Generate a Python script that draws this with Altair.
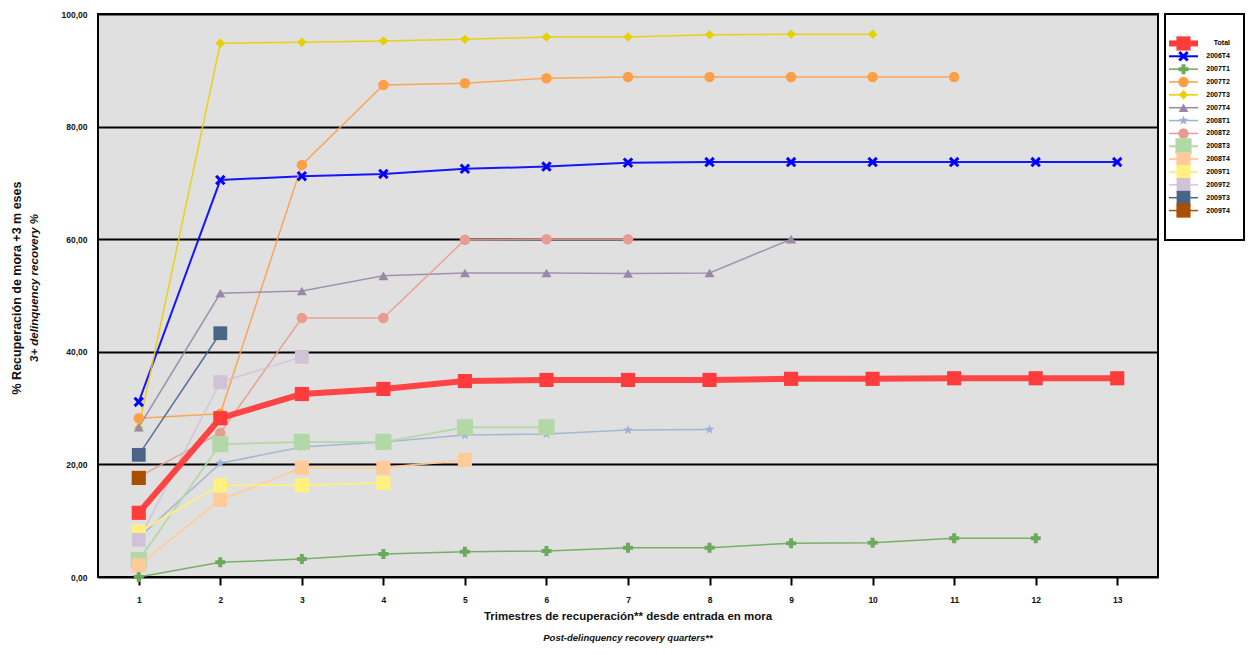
import altair as alt
import pandas as pd

# ---- data ----
series_names = ["Total", "2006T4", "2007T1", "2007T2", "2007T3", "2007T4", "2008T1",
                "2008T2", "2008T3", "2008T4", "2009T1", "2009T2", "2009T3", "2009T4"]

total   = [11.4, 28.2, 32.5, 33.4, 34.8, 35.0, 35.0, 35.0, 35.2, 35.2, 35.3, 35.3, 35.3]
s2006T4 = [31.1, 70.5, 71.2, 71.6, 72.5, 72.9, 73.6, 73.7, 73.7, 73.7, 73.7, 73.7, 73.7]
s2007T1 = [0.0, 2.6, 3.2, 4.1, 4.5, 4.6, 5.2, 5.2, 6.0, 6.1, 6.9, 6.9]
s2007T2 = [28.2, 29.0, 73.2, 87.4, 87.7, 88.6, 88.8, 88.8, 88.8, 88.8, 88.8]
s2007T3 = [26.5, 94.8, 95.0, 95.2, 95.5, 95.9, 95.9, 96.3, 96.4, 96.4]
s2007T4 = [26.6, 50.4, 50.8, 53.5, 54.0, 54.0, 53.9, 54.0, 60.0]
s2008T1 = [7.0, 20.2, 23.1, 24.0, 25.2, 25.4, 26.1, 26.2]
s2008T2 = [17.8, 25.6, 46.0, 46.0, 59.9, 60.0, 60.0]
s2008T3 = [3.0, 23.6, 24.0, 24.0, 26.6, 26.6]
s2008T4 = [2.1, 13.7, 19.4, 19.4, 20.8]
s2009T1 = [8.0, 16.3, 16.3, 16.7]
s2009T2 = [6.6, 34.6, 39.1]
s2009T3 = [21.7, 43.3]
s2009T4 = [17.6]

quarter_ticks = list(range(1, 14))
y_ticks = [0, 20, 40, 60, 80, 100]

x_title_1 = "Trimestres de recuperación** desde entrada en mora"
x_title_2 = "Post-delinquency recovery quarters**"
y_title_1 = "% Recuperación de mora +3 m eses"
y_title_2 = "3+ delinquency recovery %"

# ---- styles ----
colors = ["#FF3B3B", "#0000FF", "#6BAA5C", "#FF9F45", "#E8D000", "#9A88A8", "#9DB2D2",
          "#E89C90", "#B2D8A8", "#FFCC99", "#FFF080", "#D2C2D8", "#4A6488", "#A85000"]
xshape = "M-1,-0.6L-0.4,0L-1,0.6L-0.6,1L0,0.4L0.6,1L1,0.6L0.4,0L1,-0.6L0.6,-1L0,-0.4L-0.6,-1Z"
starshape = ("M0,-1L0.235,-0.324L0.951,-0.309L0.38,0.124L0.588,0.809L0,0.4L-0.588,0.809"
             "L-0.38,0.124L-0.951,-0.309L-0.235,-0.324Z")
shapes = ["square", xshape, "cross", "circle", "diamond", "triangle-up", starshape,
          "circle", "square", "square", "square", "square", "square", "square"]
sizes = [200, 110, 100, 110, 90, 100, 110, 110, 260, 200, 200, 190, 190, 200]
widths = [6, 2, 1.5, 1.5, 1.5, 1.5, 1.5, 1.5, 2, 2, 2, 1.5, 1.5, 1.5]

series_values = [total, s2006T4, s2007T1, s2007T2, s2007T3, s2007T4, s2008T1,
                 s2008T2, s2008T3, s2008T4, s2009T1, s2009T2, s2009T3, s2009T4]
rows = []
for k, (name, vals) in enumerate(zip(series_names, series_values)):
    for i, v in enumerate(vals):
        rows.append({"series": name, "quarter": quarter_ticks[i], "value": v,
                     "msize": sizes[k], "lw": widths[k]})
df = pd.DataFrame(rows)
legend_df = pd.DataFrame({"series": series_names, "msize": sizes, "lw": widths})

FONT = "Liberation Sans"

color_scale = alt.Scale(domain=series_names, range=colors)
shape_scale = alt.Scale(domain=series_names, range=shapes)

x_enc = alt.X("quarter:Q",
              scale=alt.Scale(domain=[0.5, 13.5], nice=False, zero=False),
              axis=alt.Axis(values=quarter_ticks, format="d", title=None, grid=False,
                            domain=False, ticks=True, tickSize=8, tickWidth=2,
                            tickColor="black", labelFont=FONT, labelFontSize=8.5,
                            labelFontWeight="bold", labelColor="#111",
                            labelPadding=10, orient="bottom"))
y_enc = alt.Y("value:Q",
              scale=alt.Scale(domain=[0, 100], nice=False),
              axis=alt.Axis(values=y_ticks, title=None, grid=True, gridColor="black",
                            gridWidth=2, gridOpacity=1, domain=False, ticks=False,
                            labelFont=FONT, labelFontSize=8.5, labelFontWeight="bold",
                            labelColor="#111", labelPadding=11, orient="left",
                            labelExpr="replace(format(datum.value, '.2f'), '.', ',')"))
color_enc = alt.Color("series:N", scale=color_scale, legend=None)
shape_enc = alt.Shape("series:N", scale=shape_scale, legend=None)
size_enc = alt.Size("msize:Q", scale=None)
sw_enc = alt.StrokeWidth("lw:Q", scale=None)

base = alt.Chart(df)
others_lines = base.transform_filter(alt.datum.series != "Total").mark_line(opacity=0.9).encode(
    x=x_enc, y=y_enc, color=color_enc, strokeWidth=sw_enc, detail="series:N")
others_points = base.transform_filter(alt.datum.series != "Total").mark_point(
    filled=True, opacity=1).encode(x=x_enc, y=y_enc, color=color_enc, shape=shape_enc, size=size_enc)
total_line = base.transform_filter(alt.datum.series == "Total").mark_line(opacity=0.95).encode(
    x=x_enc, y=y_enc, color=color_enc, strokeWidth=sw_enc)
total_points = base.transform_filter(alt.datum.series == "Total").mark_point(
    filled=True, opacity=1).encode(x=x_enc, y=y_enc, color=color_enc, shape=shape_enc, size=size_enc)

one = alt.Data(values=[{"k": 1}])
xt1 = alt.Chart(one).mark_text(text=x_title_1, font=FONT, fontSize=11.5, fontWeight="bold",
                               align="center", baseline="middle", color="#111").encode(
    x=alt.value(530), y=alt.value(603))
xt2 = alt.Chart(one).mark_text(text=x_title_2, font=FONT, fontSize=9.5, fontStyle="italic",
                               fontWeight="bold", align="center", baseline="middle",
                               color="#111").encode(
    x=alt.value(530), y=alt.value(624))
yt1 = alt.Chart(one).mark_text(text=y_title_1, font=FONT, fontSize=12.5, fontWeight="bold",
                               angle=270, align="center", baseline="middle",
                               color="#111").encode(
    x=alt.value(-81), y=alt.value(274))
yt2 = alt.Chart(one).mark_text(text=y_title_2, font=FONT, fontSize=11.5, fontStyle="italic",
                               fontWeight="bold", angle=270, align="center", baseline="middle",
                               color="#111").encode(
    x=alt.value(-63), y=alt.value(274))

main = alt.layer(others_lines, others_points, total_line, total_points,
                 xt1, xt2, yt1, yt2).properties(
    width=1060, height=563,
    view=alt.ViewBackground(fill="#E0E0E0", stroke="black", strokeWidth=2))

# ---- legend panel ----
leg_y = alt.Y("series:N", scale=alt.Scale(domain=series_names, range=[23, 203], padding=0),
              axis=None)
leg_rules = alt.Chart(legend_df).mark_rule().encode(
    x=alt.value(4), x2=alt.value(33), y=leg_y, color=color_enc, strokeWidth=sw_enc)
leg_points = alt.Chart(legend_df).mark_point(filled=True, opacity=1).encode(
    x=alt.value(18.5), y=leg_y, color=color_enc, shape=shape_enc, size=size_enc)
leg_text = alt.Chart(legend_df).mark_text(align="right", baseline="middle", font=FONT,
                                          fontSize=7, fontWeight="bold", color="black").encode(
    x=alt.value(65), y=leg_y, text="series:N")
legend = alt.layer(leg_rules, leg_points, leg_text).properties(
    width=79, height=226,
    view=alt.ViewBackground(fill="white", stroke="black", strokeWidth=2))

chart = alt.hconcat(main, legend, spacing=5).properties(
    padding={"left": 2, "top": 1, "right": 0, "bottom": 0},
    background="white",
)

chart.save("out.html", embed_options={"renderer": "svg", "actions": False})
